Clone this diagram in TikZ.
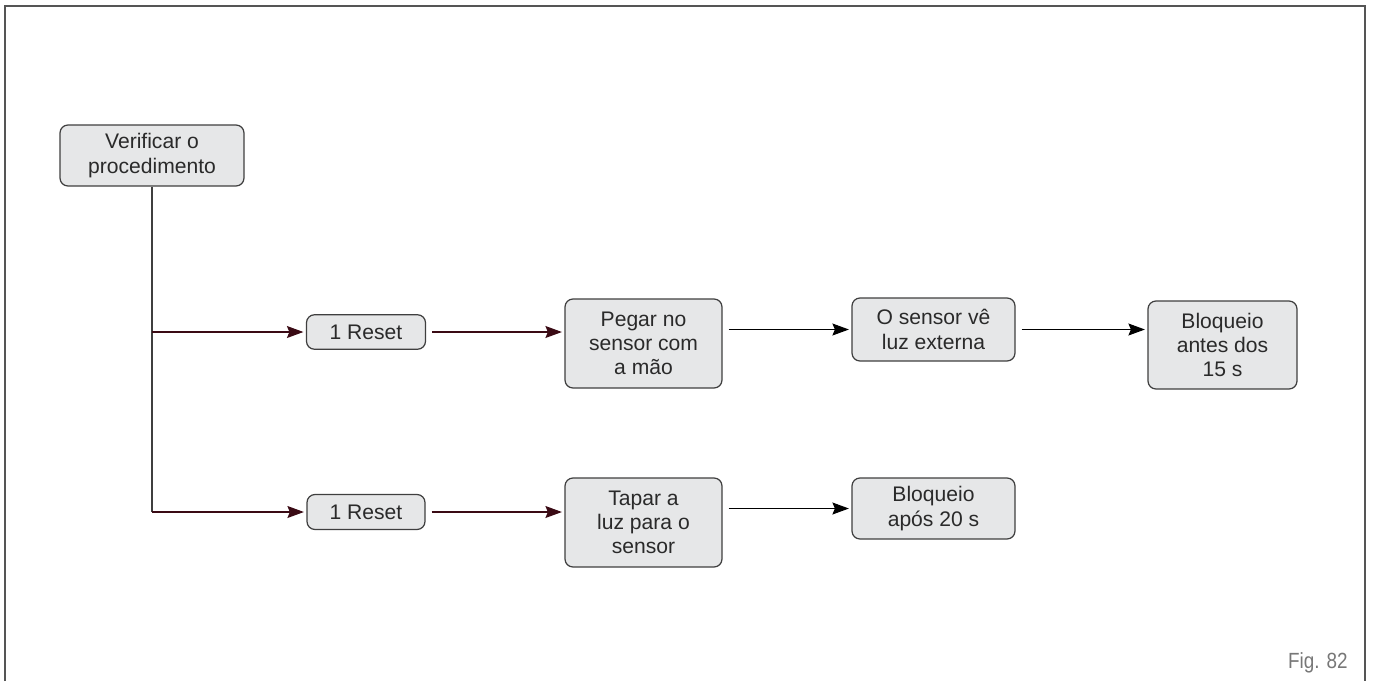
\documentclass[tikz,border=0pt]{standalone}
\usepackage{fontspec}
\setmainfont{Liberation Sans}
\newfontfamily\figfont[FakeStretch=0.86]{Liberation Sans}
\usepackage{xcolor}
\usetikzlibrary{arrows.meta,positioning,calc}

\definecolor{boxfill}{HTML}{E6E7E8}
\definecolor{boxline}{HTML}{3F3F3F}
\definecolor{boxtext}{HTML}{2A2A2A}
\definecolor{linkred}{HTML}{3A0A14}
\definecolor{framegray}{HTML}{555555}

\begin{document}
\begin{tikzpicture}[
		stepbox/.style={draw=boxline, line width=0.7pt, rounded corners=0.16cm, fill=boxfill, text=boxtext, align=center, inner sep=0pt, font=\fontsize{12}{13.8}\selectfont},
		link/.style={line width=0.6pt, -{Stealth[length=3.3mm, width=2.4mm, inset=0.5mm]}, shorten <=0.12cm, shorten >=0.05cm},
	]
		\useasboundingbox (0,0) rectangle (27.46,-13.62);
		% frame, open at the bottom
		\draw[framegray, line width=0.7pt] (0.1,-13.62) -- (0.1,-0.12) -- (27.3,-0.12) -- (27.3,-13.62);

		\node[stepbox, minimum width=3.68cm, minimum height=1.22cm] (verif) at (3.04,-3.11) {Verificar o\\procedimento};

		\begin{scope}
			\node[stepbox, minimum width=2.38cm, minimum height=0.69cm] (reset1) at (7.32,-6.64) {1 Reset};
			\node[stepbox, minimum width=3.14cm, minimum height=1.78cm] (pegar) at (12.87,-6.87) {Pegar no\\sensor com\\a mão};
			\node[stepbox, minimum width=3.26cm, minimum height=1.26cm] (sensor) at (18.67,-6.59) {O sensor vê\\luz externa};
			\node[stepbox, minimum width=2.98cm, minimum height=1.76cm] (bloq1) at (24.45,-6.90) {Bloqueio\\antes dos\\15 s};
		\end{scope}

		\begin{scope}
			\node[stepbox, minimum width=2.36cm, minimum height=0.70cm] (reset2) at (7.32,-10.24) {1 Reset};
			\node[stepbox, minimum width=3.14cm, minimum height=1.78cm] (tapar) at (12.87,-10.45) {Tapar a\\luz para o\\sensor};
			\node[stepbox, minimum width=3.26cm, minimum height=1.22cm] (bloq2) at (18.67,-10.17) {Bloqueio\\após 20 s};
		\end{scope}

		% trunk and branches
		\draw[boxline, line width=0.6pt] (verif.south) -- (verif.south |- reset2.west);
		\draw[link, linkred, shorten <=0pt] (verif.south |- reset1.west) -- (reset1.west);
		\draw[link, linkred, shorten <=0pt] (verif.south |- reset2.west) -- (reset2.west);

		\draw[link, linkred] (reset1.east) -- (reset1.east -| pegar.west);
		\draw[link] (sensor.west -| pegar.east) -- (sensor.west);
		\draw[link] (sensor.east) -- (sensor.east -| bloq1.west);

		\draw[link, linkred] (reset2.east) -- (reset2.east -| tapar.west);
		\draw[link] (bloq2.west -| tapar.east) -- (bloq2.west);

		\node[anchor=base east, inner sep=0pt, text=framegray!80, font=\figfont\fontsize{12.5}{14}\selectfont] (fig) at (26.96,-13.36) {Fig. 82};
	\end{tikzpicture}
\end{document}
